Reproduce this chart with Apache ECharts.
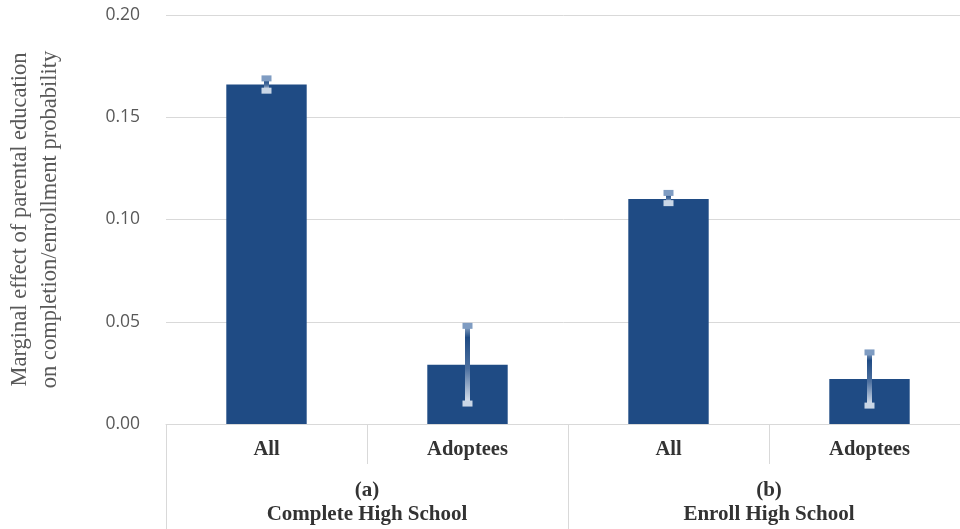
<!DOCTYPE html>
<html><head><meta charset="utf-8">
<script src="https://cdn.jsdelivr.net/npm/echarts@6/dist/echarts.min.js"></script>
<style>html,body{margin:0;padding:0;background:#fff}#c{width:960px;height:529px}</style>
</head><body><div id="c"></div>
<script>
var categories = ['All', 'Adoptees', 'All', 'Adoptees'];
var groups = ['(a)\nComplete High School', '(b)\nEnroll High School'];
var values = [0.166, 0.029, 0.110, 0.022];
var errLow = [0.163, 0.010, 0.108, 0.009];
var errHigh = [0.169, 0.048, 0.113, 0.035];
var yTicks = [0, 0.05, 0.10, 0.15, 0.20];
var yName = 'Marginal effect of parental education\non completion/enrollment probability';

var errData = categories.map(function (c, i) { return [i, errLow[i], errHigh[i]]; });

var chart = echarts.init(document.getElementById('c'));
chart.setOption({
  animation: false,
  backgroundColor: '#ffffff',
  grid: { left: 166, top: 15, width: 804, height: 409, outerBoundsMode: 'none', containLabel: false },
  xAxis: [
    {
      type: 'category', data: categories, position: 'bottom',
      axisLine: { show: true, lineStyle: { color: '#d9d9d9', width: 1 } },
      axisTick: { show: true, length: 40, lineStyle: { color: '#d9d9d9' } },
      axisLabel: { margin: 15, color: '#333333', fontFamily: 'Liberation Serif', fontWeight: 'bold', fontSize: 20.5 }
    },
    {
      type: 'category', data: groups, position: 'bottom', gridIndex: 0,
      axisLine: { show: false },
      axisTick: { show: true, length: 110, lineStyle: { color: '#d9d9d9' } },
      axisLabel: { margin: 55, color: '#333333', fontFamily: 'Liberation Serif', fontWeight: 'bold', fontSize: 21, lineHeight: 24 }
    }
  ],
  yAxis: {
    type: 'value', min: 0, max: 0.2, interval: 0.05,
    name: yName, nameLocation: 'middle', nameRotate: 90, nameGap: 101,
    nameTextStyle: { color: '#595959', fontFamily: 'Liberation Serif', fontSize: 22.5, lineHeight: 30 },
    axisLine: { show: false }, axisTick: { show: false },
    axisLabel: {
      margin: 26, color: '#595959', fontFamily: 'Open Sans', fontSize: 17.5,
      formatter: function (v) { return v.toFixed(2); }
    },
    splitLine: { lineStyle: { color: '#d9d9d9', width: 1 } }
  },
  series: [
    {
      type: 'bar', data: values, barWidth: '40%', xAxisIndex: 0,
      itemStyle: { color: '#1f4b84' }, z: 2
    },
    {
      type: 'custom', xAxisIndex: 0, data: errData, z: 5,
      renderItem: function (params, api) {
        var x = api.coord([api.value(0), 0])[0];
        var top = api.coord([api.value(0), api.value(2)])[1];
        var bot = api.coord([api.value(0), api.value(1)])[1];
        var grad = new echarts.graphic.LinearGradient(0, 0, 0, 1, [
          { offset: 0, color: '#8fa8c8' },
          { offset: 0.15, color: '#1f4b84' },
          { offset: 0.55, color: '#4e71a0' },
          { offset: 1, color: '#dfe7f1' }
        ]);
        return {
          type: 'group',
          children: [
            { type: 'rect', shape: { x: x - 2.5, y: top, width: 5, height: bot - top }, style: { fill: grad } },
            { type: 'rect', shape: { x: x - 5, y: top - 3, width: 10, height: 6 }, style: { fill: '#7f9cc2' } },
            { type: 'rect', shape: { x: x - 5, y: bot - 3, width: 10, height: 6 }, style: { fill: '#c9d6e6' } }
          ]
        };
      }
    }
  ]
});
</script></body></html>
